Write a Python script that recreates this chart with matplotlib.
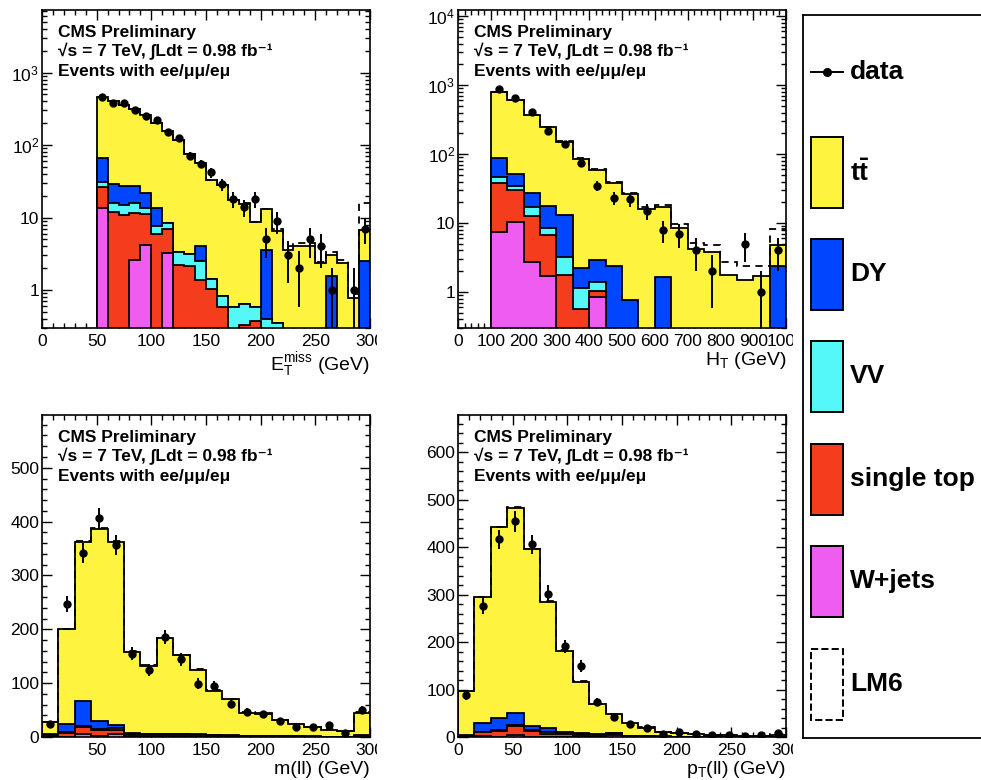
import numpy as np
import matplotlib
matplotlib.use("Agg")
import matplotlib.pyplot as plt
from matplotlib import transforms as mtrans
from matplotlib.patches import Rectangle
from matplotlib.ticker import FixedLocator, MultipleLocator, LogLocator, NullFormatter, FixedFormatter

plt.rcParams["font.family"] = ["Liberation Sans", "DejaVu Sans"]
plt.rcParams["mathtext.fontset"] = "custom"
plt.rcParams["mathtext.rm"] = "Liberation Sans"
plt.rcParams["mathtext.it"] = "Liberation Sans:italic"
plt.rcParams["mathtext.bf"] = "Liberation Sans:bold"
plt.rcParams["mathtext.sf"] = "Liberation Sans"

# ---------------- data: missing transverse energy ----------------
met_edges = np.arange(50, 301, 10)
met_data = [460, 380, 385, 300, 250, 220, 150, 126, 71, 55, 42, 29, 18, 14, 18,
            5, 9, 3, 2, 5, 4, 1, 0, 1, 7]
met_tt = [389, 376, 333, 288, 238, 191, 147, 115, 72, 53, 31.6, 27.2, 16.9, 14.9, 8.0,
          9.4, 6.25, 3.6, 4.0, 4.0, 2.35, 1.44, 2.35, 0.78, 4.3]
met_dy = [35, 12.7, 12.6, 11.8, 8.6, 6.0, 0, 0, 0, 1.55, 0, 0, 0, 0, 0,
          3.2, 0, 0, 0, 0, 0, 1.56, 0, 0, 2.5]
met_vv = [4.0, 4.2, 4.2, 4.0, 2.3, 1.7, 1.6, 1.2, 0.96, 1.13, 0.37, 0.25, 0.58, 0.31, 0.21,
          0.4, 0.35, 0, 0, 0, 0, 0, 0, 0, 0]
met_st = [13.2, 11.8, 10.7, 9.1, 6.9, 5.9, 3.7, 2.2, 2.14, 1.37, 1.05, 0.58, 0, 0.33, 0.38,
          0, 0, 0, 0, 0, 0, 0, 0, 0, 0]
met_wj = [13.4, 0, 0, 2.6, 4.2, 0, 3.2, 0, 0, 0, 0, 0, 0, 0, 0,
          0, 0, 0, 0, 0, 0, 0, 0, 0, 0]
met_lm6 = [0.2, 0.2, 0.2, 0.2, 0.2, 0.2, 0.2, 0.2, 0.2, 0.2, 0.2, 0.2, 0.2, 0.2, 0.2,
           0.3, 0.3, 0.4, 0.45, 0.4, 0.1, 0.4, 0.25, 0.1, 9.0]

# ---------------- data: H_T ----------------
ht_edges = np.arange(100, 1001, 50)
ht_data = [865, 653, 406, 219, 140, 73, 35, 23, 22, 15, 8, 7, 4, 2, 0, 5, 1, 4]
ht_tt = [703, 549, 343, 227, 139, 82.8, 56, 35.2, 25.7, 15.8, 15.4, 8.6, 4.2, 3.75,
         1.78, 1.47, 1.68, 2.5]
ht_dy = [40, 16.3, 10.2, 9.3, 10, 1.09, 1.56, 2.35, 0.77, 0, 1.65, 0, 0, 0, 0, 0, 0, 2.35]
ht_vv = [9, 4.3, 4.0, 1.7, 1.42, 0.57, 0.36, 0, 0, 0, 0, 0, 0, 0, 0, 0, 0, 0]
ht_st = [30.7, 20.2, 10.1, 5.08, 1.78, 0.57, 0.17, 0, 0, 0, 0, 0, 0, 0, 0, 0, 0, 0]
ht_wj = [7.3, 10.2, 2.7, 1.72, 0, 0, 0.85, 0, 0, 0, 0, 0, 0, 0, 0, 0, 0, 0]
ht_lm6 = [0.5, 0.8, 1.0, 1.2, 1.3, 1.3, 1.4, 1.3, 1.2, 1.1, 1.0, 1.2, 1.0, 1.1,
          0.9, 0.93, 0.72, 3.35]

# ---------------- data: dilepton mass ----------------
mll_edges = np.arange(0, 301, 15)
mll_data = [25, 247, 342, 406, 356, 155, 125, 186, 144, 99, 95, 62, 47, 42, 29, 19, 19, 22, 8, 51]
mll_tt = [23.2, 175.6, 296.4, 357, 339.2, 151, 126.2, 176.5, 146.2, 120.1, 82.7, 66.8,
          42.7, 41.8, 29.4, 22.3, 17.6, 12.9, 10.6, 42]
mll_dy = [2, 16.5, 46, 13.5, 7, 1.5, 1, 1, 1, 0.8, 0.5, 0.5, 0.3, 0.3, 0.2, 0.2, 0.2, 0.1, 0.1, 0.5]
mll_vv = [0.5, 1, 2, 2, 2, 1, 1, 1.2, 1, 0.8, 0.6, 0.5, 0.4, 0.3, 0.3, 0.2, 0.2, 0.2, 0.1, 0.5]
mll_st = [2, 7, 12.6, 12.5, 7.8, 4, 3.5, 4, 3.5, 3, 2, 2, 1.5, 1, 1, 0.8, 0.6, 0.5, 0.4, 1]
mll_wj = [0.3, 0.5, 6, 1, 6, 0.5, 0.3, 0.3, 0.3, 0.3, 0.2, 0.2, 0.1, 0.1, 0.1, 0.1, 0, 0, 0, 1.0]
mll_lm6 = [0.3, 0.8, 1.2, 1.5, 1.5, 1.2, 1.2, 1.2, 1.1, 1.0, 1.0, 0.9, 0.8, 0.8, 0.7, 0.6,
           0.6, 0.5, 0.5, 1.5]

# ---------------- data: dilepton transverse momentum ----------------
ptll_edges = np.arange(0, 301, 15)
ptll_data = [88, 276, 416, 454, 406, 302, 191, 150, 73, 42, 28, 18, 7, 10, 6, 4, 4, 3, 4, 9]
ptll_tt = [93.5, 265.5, 400.6, 430.7, 371.5, 266.8, 170.6, 107.7, 63.2, 38.8, 26.5, 17.6,
           9.3, 7.4, 5.5, 3.6, 3.0, 2.4, 2.5, 4.1]
ptll_dy = [1, 17, 27, 25, 8, 8.5, 3.5, 2, 1, 1, 0.5, 0.5, 0.3, 0.2, 0.2, 0.1, 0.1, 0.1, 0.1, 0.3]
ptll_vv = [0.5, 1, 2, 3, 3, 3, 2, 2, 1.5, 1, 0.8, 0.5, 0.4, 0.3, 0.3, 0.2, 0.2, 0.1, 0.1, 0.3]
ptll_st = [1.5, 8.5, 11, 18, 12, 6, 5, 4, 3, 2, 1.5, 1, 0.5, 0.5, 0.3, 0.3, 0.2, 0.2, 0.1, 0.3]
ptll_wj = [0.5, 2, 1, 5, 0.5, 0.5, 0.3, 0.3, 0.3, 5, 0.2, 0.1, 0, 0, 0, 0, 0, 0, 0, 0]
ptll_lm6 = [0.5, 1.0, 1.5, 1.8, 1.8, 1.6, 1.4, 1.2, 1.0, 0.9, 0.8, 0.7, 0.6, 0.5, 0.5, 0.4,
            0.4, 0.3, 0.3, 1.0]

# ---------------- style ----------------
C_TT = "#FEF43F"
C_DY = "#0046FF"
C_VV = "#55F8F8"
C_ST = "#F43D1C"
C_WJ = "#EE5CF0"

W, H = 981, 780
fig = plt.figure(figsize=(W / 100, H / 100), dpi=100)


def px_axes(left, top, right, bottom):
    return fig.add_axes([left / W, 1 - bottom / H, (right - left) / W, (bottom - top) / H])


def draw_stack(ax, edges, tt, dy, vv, st, wj, lm6, data, log):
    base = 1e-3 if log else 0.0
    c_wj = np.asarray(wj, float)
    c_st = c_wj + np.asarray(st, float)
    c_vv = c_st + np.asarray(vv, float)
    c_dy = c_vv + np.asarray(dy, float)
    c_tt = c_dy + np.asarray(tt, float)
    c_lm6 = c_tt + np.asarray(lm6, float)

    for arr, col in [(c_tt, C_TT), (c_dy, C_DY), (c_vv, C_VV), (c_st, C_ST), (c_wj, C_WJ)]:
        vals = np.where(arr > base, arr, base)
        ax.stairs(vals, edges, baseline=base, fill=True, facecolor=col,
                  edgecolor="black", linewidth=1.3, zorder=2)
    ax.stairs(c_lm6, edges, baseline=None, color="black", linewidth=1.3,
              linestyle=(0, (4, 3)), zorder=3)

    d = np.asarray(data, float)
    centers = 0.5 * (edges[:-1] + edges[1:])
    m = d > 0
    ax.errorbar(centers[m], d[m], yerr=np.sqrt(d[m]), fmt="o", color="black",
                ms=5.0, elinewidth=1.4, capsize=0, zorder=5)


def style_axes(ax, xlim, ylim, log, xmajor, xminor, clip_x, xlabel, ymajor=None, yminor=None,
               log_ticks=None, xticks=None, xlabel_drop=37):
    ax.set_xlim(*xlim)
    if log:
        ax.set_yscale("log")
        ax.yaxis.set_major_locator(FixedLocator(log_ticks))
        labels = []
        for v in log_ticks:
            e = int(round(np.log10(v)))
            labels.append("1" if e == 0 else ("10" if e == 1 else r"10$^{%d}$" % e))
        ax.yaxis.set_major_formatter(FixedFormatter(labels))
        ax.yaxis.set_minor_locator(LogLocator(base=10, subs=np.arange(2, 10)))
        ax.yaxis.set_minor_formatter(NullFormatter())
    else:
        ax.yaxis.set_major_locator(MultipleLocator(ymajor))
        ax.yaxis.set_minor_locator(MultipleLocator(yminor))
    ax.set_ylim(*ylim)
    if xticks is not None:
        ax.xaxis.set_major_locator(FixedLocator(xticks))
    else:
        ax.xaxis.set_major_locator(MultipleLocator(xmajor))
    ax.xaxis.set_minor_locator(MultipleLocator(xminor))
    ax.tick_params(which="both", direction="in", top=True, right=True, width=1.0,
                   labelsize=12.5)
    ax.tick_params(which="major", length=7.5)
    ax.tick_params(which="minor", length=3.8)
    ax.tick_params(axis="x", pad=4)
    ax.tick_params(axis="y", pad=2)
    for sp in ax.spines.values():
        sp.set_linewidth(1.2)
    # tick labels past the pad edge are cut off
    clip = mtrans.TransformedBbox(mtrans.Bbox.from_extents(0, 0, clip_x / W, 1), fig.transFigure)
    for lab in ax.get_xticklabels():
        lab.set_clip_box(clip)
        lab.set_clip_on(True)
    tr = mtrans.offset_copy(ax.transAxes, fig=fig, x=0, y=-xlabel_drop, units="dots")
    ax.text(1.0, 0.0, xlabel, transform=tr, ha="right", va="baseline", fontsize=14)

    # header text
    header = ["CMS Preliminary",
              "\u221As = 7 TeV, \u222BLdt = 0.98 fb\u207B\u00B9",
              "Events with ee/\u03BC\u03BC/e\u03BC"]
    for txt, dy in zip(header, [27, 46.5, 66]):
        trh = mtrans.offset_copy(ax.transAxes, fig=fig, x=16, y=-dy, units="dots")
        ax.text(0.0, 1.0, txt, transform=trh, ha="left", va="baseline",
                fontsize=12.5, fontweight="bold", zorder=6)


# ---------------- panels ----------------
ax1 = px_axes(42, 10, 370, 328)
draw_stack(ax1, met_edges, met_tt, met_dy, met_vv, met_st, met_wj, met_lm6, met_data, True)
style_axes(ax1, (0, 300), (0.3, 7300), True, 50, 10, 377,
           r"E$_{\mathrm{T}}^{\mathrm{miss}}$ (GeV)", log_ticks=[1, 10, 100, 1000],
           xlabel_drop=42)

ax2 = px_axes(458, 10, 786, 328)
draw_stack(ax2, ht_edges, ht_tt, ht_dy, ht_vv, ht_st, ht_wj, ht_lm6, ht_data, True)
style_axes(ax2, (0, 1000), (0.3, 12300), True, 100, 20, 793,
           r"H$_{\mathrm{T}}$ (GeV)", log_ticks=[1, 10, 100, 1000, 10000])

ax3 = px_axes(42, 415, 370, 737)
draw_stack(ax3, mll_edges, mll_tt, mll_dy, mll_vv, mll_st, mll_wj, mll_lm6, mll_data, False)
style_axes(ax3, (0, 300), (0, 598), False, 50, 10, 377, "m(ll) (GeV)",
           ymajor=100, yminor=20, xticks=[50, 100, 150, 200, 250, 300])

ax4 = px_axes(458, 415, 786, 737)
draw_stack(ax4, ptll_edges, ptll_tt, ptll_dy, ptll_vv, ptll_st, ptll_wj, ptll_lm6, ptll_data, False)
style_axes(ax4, (0, 300), (0, 678), False, 50, 10, 793, r"p$_{\mathrm{T}}$(ll) (GeV)",
           ymajor=100, yminor=20)

# ---------------- legend ----------------
lax = fig.add_axes([803 / W, 1 - 738 / H, (1010 - 803) / W, (738 - 15) / H])
lax.set_xlim(803, 1010)
lax.set_ylim(738, 15)
lax.set_xticks([])
lax.set_yticks([])
for sp in lax.spines.values():
    sp.set_linewidth(1.3)

lax.plot([811, 843], [72, 72], color="black", lw=1.4)
lax.plot([827], [72], "o", color="black", ms=5.5)
lax.text(850, 72, "data", va="center", ha="left", fontsize=19, fontweight="bold")

entries = [(r"$\mathbf{t\bar{t}}$", C_TT, 137, "-"),
           ("DY", C_DY, 239, "-"),
           ("VV", C_VV, 341, "-"),
           ("single top", C_ST, 444, "-"),
           ("W+jets", C_WJ, 546, "-"),
           ("LM6", "none", 649, "--")]
for label, col, top, ls in entries:
    lax.add_patch(Rectangle((811, top), 32, 71, facecolor=col, edgecolor="black",
                            linewidth=1.4, linestyle=ls))
    lax.text(850, top + 35.5, label, va="center", ha="left", fontsize=19, fontweight="bold")

fig.savefig("out.png", dpi=100)
